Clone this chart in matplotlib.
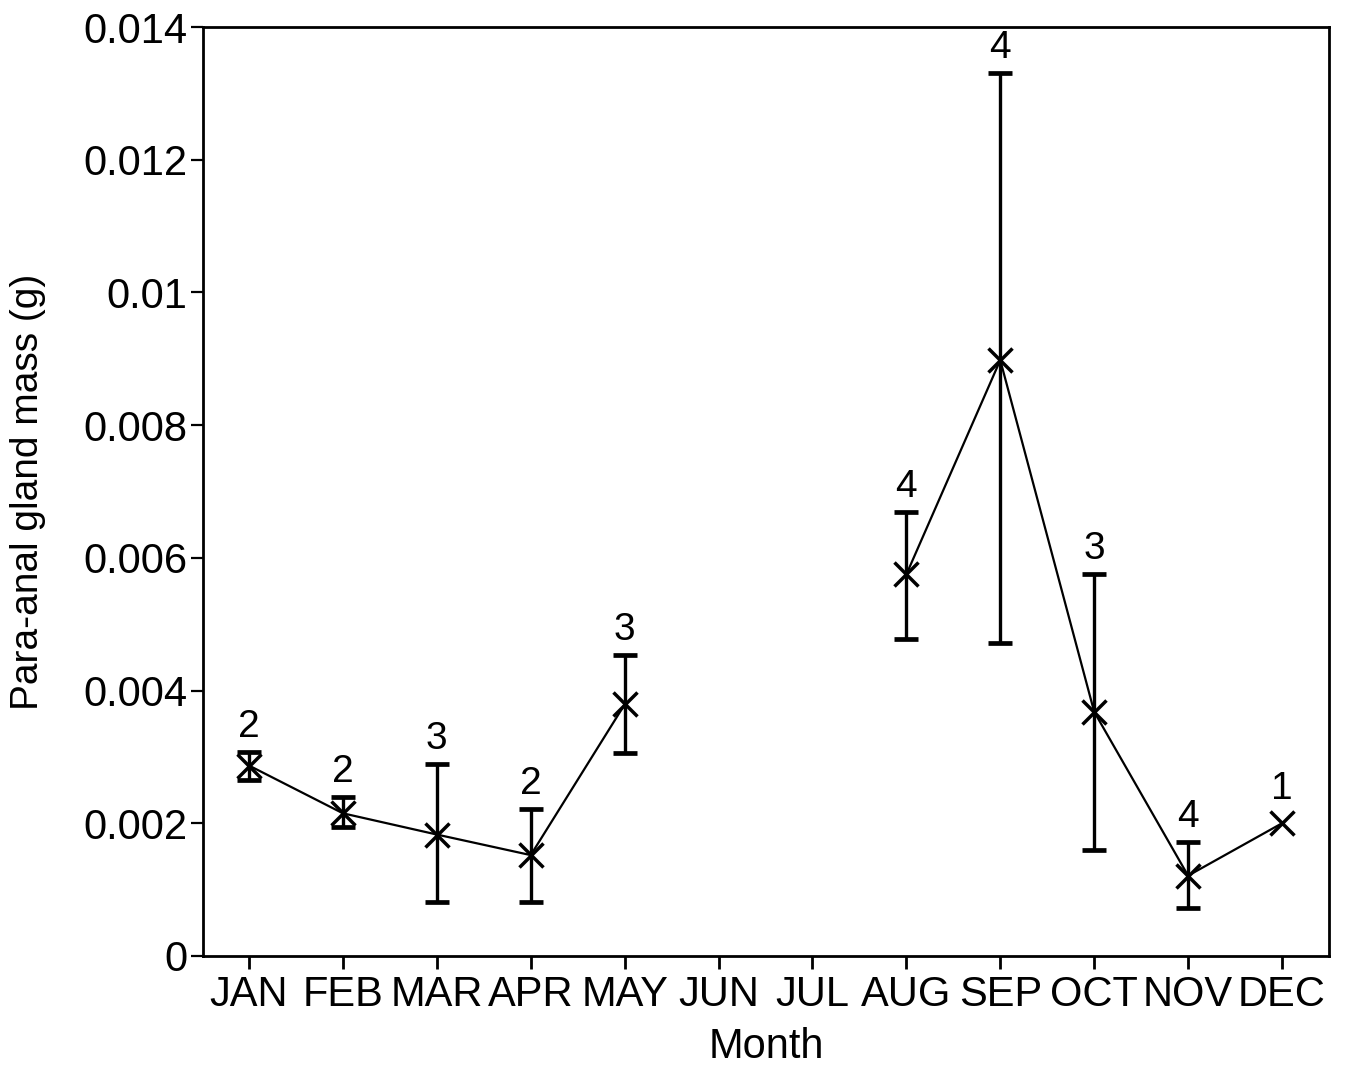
import numpy as np
import matplotlib
matplotlib.use("Agg")
from matplotlib import pyplot as plt

plt.rcParams["font.family"] = ["Liberation Sans", "DejaVu Sans"]

months = ["JAN", "FEB", "MAR", "APR", "MAY", "JUN", "JUL", "AUG", "SEP", "OCT", "NOV", "DEC"]
nan = np.nan
mass_mean = [0.00287, 0.00215, 0.00183, 0.00152, 0.00379, nan, nan, 0.00575, 0.00898, 0.00368, 0.00121, 0.00200]
err_upper = [0.00308, 0.00239, 0.00289, 0.00221, 0.00453, nan, nan, 0.00669, 0.01331, 0.00575, 0.00172, nan]
err_lower = [0.00265, 0.00194, 0.00081, 0.00081, 0.00306, nan, nan, 0.00477, 0.00471, 0.00159, 0.00073, nan]
sample_n = [2, 2, 3, 2, 3, None, None, 4, 4, 3, 4, 1]

x = np.arange(len(months))
mean = np.array(mass_mean)
hi = np.array(err_upper)
lo = np.array(err_lower)

fig = plt.figure(figsize=(13.47, 10.68), dpi=100)
ax = fig.add_axes([0.1507, 0.1049, 0.8359, 0.8698])

# error bars (only where there is a spread)
has_err = ~np.isnan(hi)
ax.errorbar(
    x[has_err], mean[has_err],
    yerr=[mean[has_err] - lo[has_err], hi[has_err] - mean[has_err]],
    fmt="none", ecolor="black", elinewidth=2.4, capsize=8.5, capthick=3.4, zorder=2,
)
ax.plot(x, mean, color="black", lw=1.6, marker="x", ms=17, mew=2.5, zorder=3)

# sample sizes above each point
for xi, m, h, n in zip(x, mean, hi, sample_n):
    if n is None:
        continue
    top = m if np.isnan(h) else h
    off = 12 if np.isnan(h) else 5
    ax.annotate(str(n), (xi, top), xytext=(0, off), textcoords="offset points",
                ha="center", va="bottom", fontsize=28)

ax.set_xlim(-0.49, 11.5)
ax.set_ylim(0, 0.014)
ax.set_xticks(x)
ax.set_xticklabels(months)
ax.set_yticks([0, 0.002, 0.004, 0.006, 0.008, 0.01, 0.012, 0.014])
ax.set_yticklabels(["0", "0.002", "0.004", "0.006", "0.008", "0.01", "0.012", "0.014"])
ax.tick_params(axis="x", length=9, width=2, pad=5, labelsize=30)
ax.tick_params(axis="y", length=8.5, width=1.6, pad=3, labelsize=30)
for s in ax.spines.values():
    s.set_linewidth(2)

ax.set_xlabel("Month", fontsize=30)
ax.set_ylabel("Para-anal gland mass (g)", fontsize=28)
ax.xaxis.set_label_coords(0.5, -0.077)
ax.yaxis.set_label_coords(-0.139, 0.5)

fig.savefig("out.png", dpi=100)
